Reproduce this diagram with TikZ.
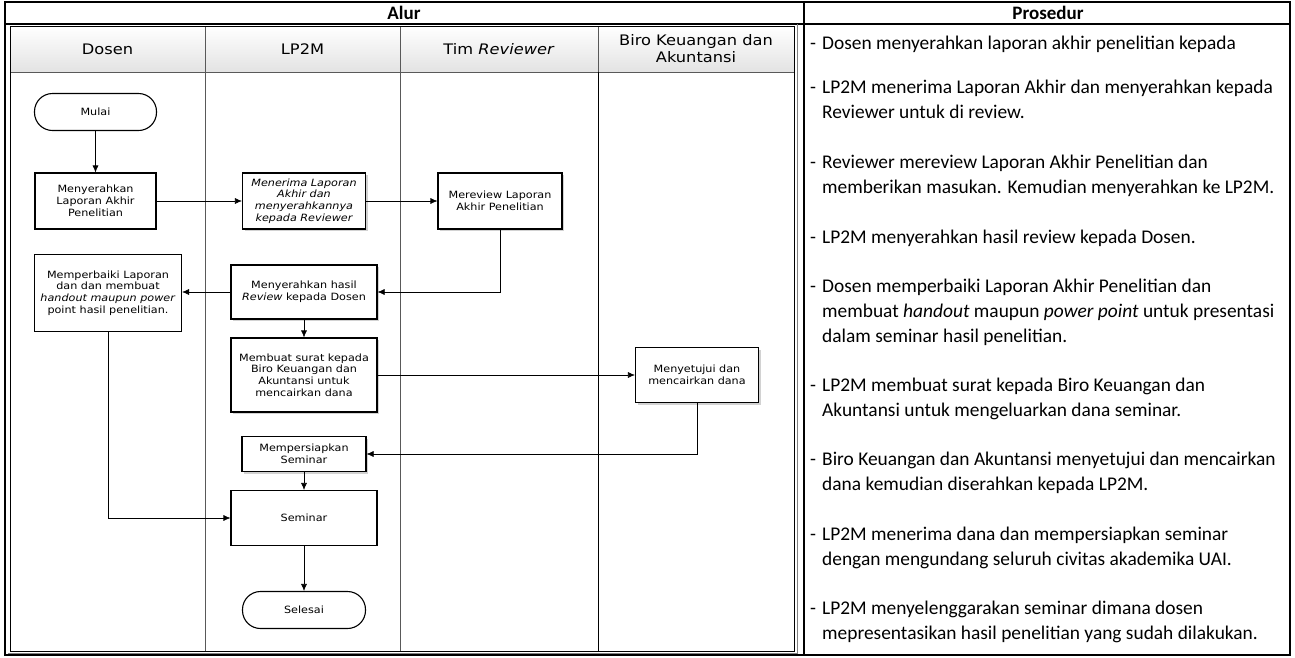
\documentclass[tikz,border=0pt]{standalone}
\usepackage{fontspec}
\setmainfont{Carlito}
\newfontfamily\flowfont{DejaVu Sans}[FakeStretch=1.12]
\usetikzlibrary{shapes,arrows,positioning,calc,shadows,arrows.meta}

\tikzset{
  >={Latex[length=7pt,width=6pt]},
  proc/.style={draw, line width=1.1pt, fill=white, align=center, inner sep=2pt,
    font=\flowfont\fontsize{10}{11.8}\selectfont},
  procsh/.style={proc, drop shadow={shadow xshift=2pt, shadow yshift=-2pt, fill=gray!35, opacity=1}},
  term/.style={proc, rounded corners=18pt},
  lanehead/.style={draw=gray!70!black, top color=white, bottom color=gray!22, align=center,
    font=\flowfont\fontsize{14.5}{17}\selectfont, minimum height=46pt},
  langkah/.style={anchor=base west, inner sep=0pt, font=\fontsize{19.4}{25}\selectfont},
  judul/.style={font=\bfseries\fontsize{19}{20}\selectfont, inner sep=0pt},
  arr/.style={->, line width=0.6pt},
}
\newcommand\langkahitem[1]{\makebox[12pt][l]{-}\parbox[t]{470pt}{\raggedright #1}}

\begin{document}
\begin{tikzpicture}[x=1pt, y=-1pt]
    \useasboundingbox (0,0) rectangle (1295,657);

    % frame and headers
    \draw[line width=1.5pt] (5,24) -- (1290,24);
    \node[judul] (alur) at (404,13) {Alur};
    \node[judul] (prosedur) at (1048,13) {Prosedur};

    % lanes
    \node[lanehead, minimum width=195pt] (hdosen) at (107.5,49) {Dosen};
    \node[lanehead, minimum width=195pt] (hlp) at (302.5,49) {LP2M};
    \node[lanehead, minimum width=198pt] (htim) at (499,49) {Tim \textit{Reviewer}};
    \node[lanehead, minimum width=196pt] (hbiro) at (696,49) {Biro Keuangan dan\\Akuntansi};
    \draw[gray!70!black] (hdosen.south east) -- (hdosen.south east |- 0,651);
    \draw[gray!70!black] (hlp.south east) -- (hlp.south east |- 0,651);
    \draw (htim.south east) -- (htim.south east |- 0,651);
    \draw[line width=0.8pt] (10,26) rectangle (794,651);
    \draw[gray] (797.5,24) -- (797.5,653) -- (8,653);
    \draw[line width=2.5pt] (5,2) rectangle (1290,655);
    \draw[line width=2.5pt] (804,2) -- (804,655);

    % flow
    \node[term, minimum width=122pt, minimum height=37pt] (mulai) at (95.5,112) {Mulai};
    \node[proc, minimum width=121pt, minimum height=56pt] (serah) at (95.5,201) {Menyerahkan\\Laporan Akhir\\Penelitian};
    \node[procsh, minimum width=123pt, minimum height=56pt] (terima) at (304,201) {\itshape Menerima Laporan\\\itshape Akhir dan\\\itshape menyerahkannya\\\itshape kepada Reviewer};
    \node[procsh, minimum width=124pt, minimum height=56pt] (review) at (500,201) {Mereview Laporan\\Akhir Penelitian};
    \node[proc, minimum width=147pt, minimum height=77pt] (perbaiki) at (108,293) {Memperbaiki Laporan\\dan dan membuat\\\textit{handout maupun power}\\point hasil penelitian.};
    \node[procsh, minimum width=146pt, minimum height=54pt] (hasil) at (304,292) {Menyerahkan hasil\\\textit{Review} kepada Dosen};
    \node[procsh, minimum width=146pt, minimum height=74pt] (surat) at (304,375) {Membuat surat kepada\\Biro Keuangan dan\\Akuntansi untuk\\mencairkan dana};
    \node[procsh, minimum width=123pt, minimum height=55pt] (setuju) at (697,375) {Menyetujui dan\\mencairkan dana};
    \node[procsh, minimum width=124pt, minimum height=35pt] (siap) at (304,454) {Mempersiapkan\\Seminar};
    \node[proc, minimum width=146pt, minimum height=55pt] (seminar) at (304,518) {Seminar};
    \node[term, minimum width=123pt, minimum height=37pt] (selesai) at (304,610) {Selesai};

    \draw[arr] (mulai) -- (serah);
    \draw[arr] (serah) -- (terima);
    \draw[arr] (terima) -- (review);
    \draw[arr] (review.south) |- (hasil.east);
    \draw[arr] (hasil.west) -- (hasil.west -| perbaiki.east);
    \draw[arr] (hasil) -- (surat);
    \draw[arr] (surat) -- (setuju);
    \draw[arr] (setuju.south) |- (siap.east);
    \draw[arr] (siap) -- (seminar);
    \draw[arr] (perbaiki.south) |- (seminar.west);
    \draw[arr] (seminar) -- (selesai);

    % prosedur
    \node[langkah] (p1) at (810,49.5) {\langkahitem{Dosen menyerahkan laporan akhir penelitian kepada}};
    \node[langkah] (p2) at (810,93.5) {\langkahitem{LP2M menerima Laporan Akhir dan menyerahkan kepada\\Reviewer untuk di review.}};
    \node[langkah] (p3) at (810,168.5) {\langkahitem{Reviewer mereview Laporan Akhir Penelitian dan\\memberikan masukan. Kemudian menyerahkan ke LP2M.}};
    \node[langkah] (p4) at (810,243.5) {\langkahitem{LP2M menyerahkan hasil review kepada Dosen.}};
    \node[langkah] (p5) at (810,292.5) {\langkahitem{Dosen memperbaiki Laporan Akhir Penelitian dan\\membuat \textit{handout} maupun \textit{power point} untuk presentasi\\dalam seminar hasil penelitian.}};
    \node[langkah] (p6) at (810,391.5) {\langkahitem{LP2M membuat surat kepada Biro Keuangan dan\\Akuntansi untuk mengeluarkan dana seminar.}};
    \node[langkah] (p7) at (810,465.5) {\langkahitem{Biro Keuangan dan Akuntansi menyetujui dan mencairkan\\dana kemudian diserahkan kepada LP2M.}};
    \node[langkah] (p8) at (810,540.5) {\langkahitem{LP2M menerima dana dan mempersiapkan seminar\\dengan mengundang seluruh civitas akademika UAI.}};
    \node[langkah] (p9) at (810,614.5) {\langkahitem{LP2M menyelenggarakan seminar dimana dosen\\mepresentasikan hasil penelitian yang sudah dilakukan.}};
\end{tikzpicture}
\end{document}
